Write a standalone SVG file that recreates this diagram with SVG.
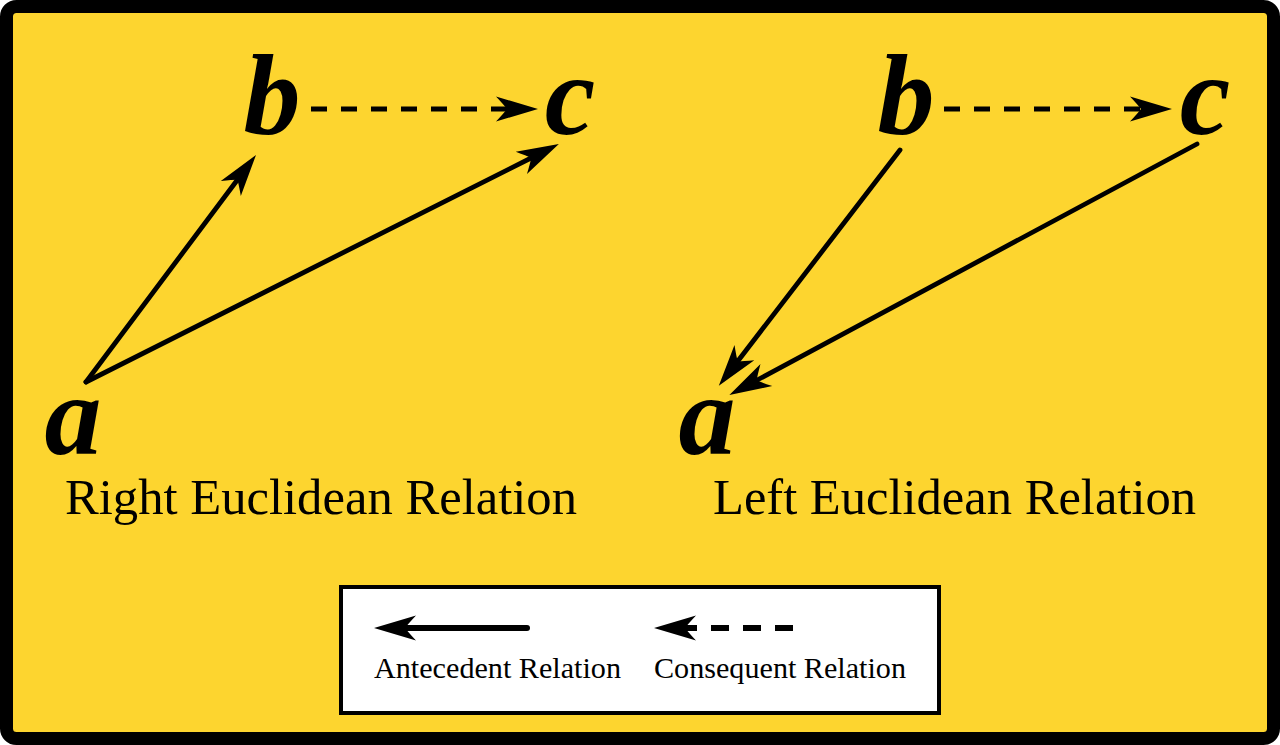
<svg xmlns="http://www.w3.org/2000/svg" width="1280" height="745" viewBox="0 0 1280 745">
  <defs>
    <style>
      .var { font-family: "Liberation Serif", "Times New Roman", serif; font-weight: bold; font-style: italic; font-size: 114px; fill: #000; text-anchor: middle; }
      .title { font-family: "Liberation Serif", "Times New Roman", serif; font-size: 50px; fill: #000; }
      .leg { font-family: "Liberation Serif", "Times New Roman", serif; font-size: 29px; fill: #000; }
      .solid { stroke: #000; stroke-width: 4.8; fill: none; stroke-linecap: round; marker-end: url(#head); }
      .dash { stroke: #000; stroke-width: 4.8; fill: none; stroke-dasharray: 16 14; marker-end: url(#head); }
    </style>
    <marker id="head" markerUnits="userSpaceOnUse" markerWidth="50" markerHeight="30" refX="22" refY="0" orient="auto" overflow="visible">
      <path d="M42,0 L0,-12.5 Q8,-4 11,0 Q8,4 0,12.5 Z" fill="#000"/>
    </marker>
  </defs>

  <rect x="6.5" y="6.5" width="1267" height="732" rx="10" fill="#FDD52F" stroke="#000" stroke-width="13"/>

  <g id="connectors">
    <line class="solid" x1="86" y1="382" x2="244" y2="171"/>
    <line class="solid" x1="86" y1="382" x2="541" y2="153"/>
    <line class="dash" x1="311" y1="109" x2="518" y2="109"/>
    <line class="solid" x1="900" y1="150" x2="731" y2="370"/>
    <line class="solid" x1="1197" y1="144" x2="747" y2="385.5"/>
    <line class="dash" x1="944" y1="109" x2="1152" y2="109"/>
  </g>

  <g id="rightEuclid-a"><text class="var" x="73" y="454">a</text></g>
  <g id="rightEuclid-b"><text class="var" x="272" y="134">b</text></g>
  <g id="rightEuclid-c"><text class="var" x="570" y="134">c</text></g>
  <g id="rightEuclid-title"><text class="title" x="65" y="514" textLength="512" lengthAdjust="spacingAndGlyphs">Right Euclidean Relation</text></g>

  <g id="leftEuclid-a"><text class="var" x="707" y="454">a</text></g>
  <g id="leftEuclid-b"><text class="var" x="906" y="134">b</text></g>
  <g id="leftEuclid-c"><text class="var" x="1205" y="134">c</text></g>
  <g id="leftEuclid-title"><text class="title" x="713" y="514" textLength="483" lengthAdjust="spacingAndGlyphs">Left Euclidean Relation</text></g>

  <g id="legend">
    <rect x="341" y="587" width="598" height="126" fill="#FFFFFF" stroke="#000" stroke-width="4"/>
    <line x1="527" y1="628" x2="394" y2="628" stroke="#000" stroke-width="6" stroke-linecap="round" marker-end="url(#head)"/>
    <line x1="793" y1="628" x2="674" y2="628" stroke="#000" stroke-width="6" stroke-dasharray="18 14" marker-end="url(#head)"/>
    <text class="leg" x="374" y="678" textLength="247" lengthAdjust="spacingAndGlyphs">Antecedent Relation</text>
    <text class="leg" x="654" y="678" textLength="252" lengthAdjust="spacingAndGlyphs">Consequent Relation</text>
  </g>
</svg>
